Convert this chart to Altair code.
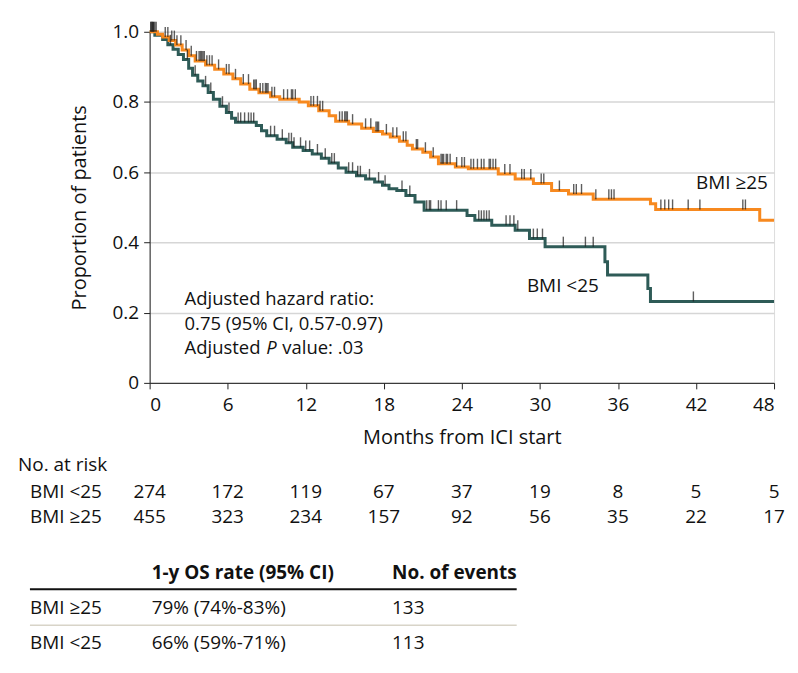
import altair as alt
import pandas as pd
import numpy as np

GROUPS = ["BMI <25", "BMI ≥25"]
COLORS = ["#2E5B57", "#F7891F"]
FONT = "Open Sans"
FS = 19

# Kaplan-Meier step curves (time in months, survival after step)
lo_t = [0, 0.4, 1.0, 1.4, 1.8, 2.2, 2.6, 3.0, 3.3, 3.7, 4.1, 4.5, 4.9, 5.4, 5.9, 6.3, 6.6, 8.2, 8.6, 9.0,
        9.8, 10.5, 11.0, 11.8, 12.5, 13.2, 13.8, 14.5, 15.1, 15.9, 16.6, 17.3, 17.9, 18.4, 19.0, 19.7,
        20.4, 21.1, 24.4, 25.0, 26.3, 28.1, 29.2, 30.4, 35.0, 35.2, 38.3, 38.5, 48.0]
lo_s = [1.0, 0.99, 0.978, 0.963, 0.95, 0.935, 0.921, 0.896, 0.876, 0.86, 0.846, 0.827, 0.808, 0.788, 0.770,
        0.754, 0.742, 0.733, 0.718, 0.704, 0.694, 0.684, 0.671, 0.662, 0.652, 0.640, 0.626, 0.612, 0.600,
        0.590, 0.581, 0.572, 0.563, 0.553, 0.548, 0.534, 0.515, 0.492, 0.477, 0.463, 0.449, 0.435, 0.411,
        0.388, 0.345, 0.307, 0.269, 0.232, 0.232]
hi_t = [0, 0.6, 1.0, 1.5, 2.0, 2.5, 3.0, 3.5, 4.3, 5.0, 5.7, 6.4, 7.0, 7.7, 8.4, 9.3, 10.0, 11.5, 12.2, 13.0,
        13.8, 14.3, 15.3, 16.3, 17.2, 17.9, 18.5, 19.2, 19.8, 20.2, 21.0, 21.6, 22.2, 23.5, 24.5, 26.8,
        28.1, 29.5, 30.9, 32.2, 34.1, 38.5, 38.9, 46.9, 48.0]
hi_s = [1.0, 0.993, 0.985, 0.975, 0.962, 0.948, 0.932, 0.917, 0.905, 0.893, 0.88, 0.866, 0.851, 0.836, 0.826,
        0.815, 0.808, 0.800, 0.789, 0.775, 0.761, 0.745, 0.737, 0.725, 0.716, 0.709, 0.70, 0.688, 0.677,
        0.666, 0.657, 0.643, 0.624, 0.615, 0.610, 0.595, 0.581, 0.568, 0.548, 0.538, 0.523, 0.510, 0.494,
        0.463, 0.463]

# censoring times
lo_c = [0.1, 0.2, 0.3, 1.6, 2.9, 3.5, 4.3, 4.7, 5.6, 6.1, 6.8, 7.0, 7.3, 7.6, 7.8, 8.0, 9.3, 9.6, 10.2, 10.7,
        10.9, 11.1, 11.6, 12.0, 12.3, 12.9, 13.5, 14.0, 14.2, 15.3, 15.6, 16.0, 16.2, 16.9, 17.6, 18.1, 19.4,
        20.0, 21.3, 21.5, 21.6, 22.2, 22.4, 22.8, 23.6, 25.3, 25.5, 25.7, 25.9, 26.1, 27.4, 27.7, 28.0, 28.3,
        29.5, 29.8, 30.2, 31.8, 33.5, 34.1, 41.8]
hi_c = [0.1, 0.2, 0.3, 0.4, 0.5, 1.2, 1.4, 1.7, 1.9, 2.1, 2.4, 2.8, 3.2, 3.6, 3.8, 3.9, 4.0, 4.1, 4.2, 4.4,
        4.6, 4.8, 5.3, 5.9, 6.1, 6.6, 7.2, 7.6, 8.0, 8.1, 8.2, 8.5, 8.7, 8.9, 9.0, 9.1, 9.4, 9.6, 10.3, 10.6,
        10.9, 11.0, 11.2, 12.4, 12.6, 12.9, 13.1, 13.3, 14.6, 14.8, 15.0, 15.1, 15.2, 15.6, 16.6, 17.0, 17.4,
        17.5, 17.6, 18.2, 18.7, 19.0, 19.5, 19.7, 20.5, 20.6, 21.2, 21.8, 22.4, 22.5, 22.6, 22.8, 22.9, 23.1,
        23.6, 24.0, 24.2, 24.7, 24.9, 25.2, 25.5, 25.7, 26.1, 26.2, 26.4, 26.6, 27.3, 27.7, 28.6, 28.8, 29.3,
        30.1, 30.3, 31.5, 32.6, 32.8, 33.2, 34.3, 35.3, 35.5, 35.7, 39.3, 39.6, 39.9, 40.2, 41.4, 42.3, 45.6,
        45.8]

# number at risk
risk_months = [0, 6, 12, 18, 24, 30, 36, 42, 48]
risk_lo = [274, 172, 119, 67, 37, 19, 8, 5, 5]
risk_hi = [455, 323, 234, 157, 92, 56, 35, 22, 17]

# summary table
tbl_header = ["1-y OS rate (95% CI)", "No. of events"]
tbl_groups = ["BMI ≥25", "BMI <25"]
tbl_os = ["79% (74%-83%)", "66% (59%-71%)"]
tbl_events = ["133", "113"]

ann_lines = ["Adjusted hazard ratio:", "0.75 (95% CI, 0.57-0.97)"]

W, H = 626, 352


def step_lookup(ts, ss, c):
    idx = np.searchsorted(np.array(ts), np.array(c), side="right") - 1
    return [ss[i] for i in idx]


def txt(s, x, y, size=FS, **kw):
    return alt.Chart(pd.DataFrame({"t": [s]})).mark_text(
        align="left", baseline="middle", fontSize=size, font=FONT, color="#111", **kw).encode(
        x=alt.value(x), y=alt.value(y), text="t:N")


curves = pd.concat([
    pd.DataFrame({"time": lo_t, "surv": lo_s, "group": GROUPS[0]}),
    pd.DataFrame({"time": hi_t, "surv": hi_s, "group": GROUPS[1]}),
])
cens = pd.concat([
    pd.DataFrame({"time": lo_c, "surv": step_lookup(lo_t, lo_s, lo_c), "group": GROUPS[0]}),
    pd.DataFrame({"time": hi_c, "surv": step_lookup(hi_t, hi_s, hi_c), "group": GROUPS[1]}),
])

xscale = alt.Scale(domain=[0, 48], nice=False, zero=True)
yscale = alt.Scale(domain=[0, 1], nice=False)
color = alt.Color("group:N", scale=alt.Scale(domain=GROUPS, range=COLORS), legend=None)

lines = alt.Chart(curves).mark_line(interpolate="step-after", strokeWidth=3).encode(
    x=alt.X("time:Q", scale=xscale,
            axis=alt.Axis(values=risk_months, title="Months from ICI start", grid=False,
                          domainColor="#222", tickColor="#222", tickSize=6, labelPadding=7,
                          titlePadding=13, labelFontSize=FS, titleFontSize=20, labelColor="#111",
                          titleColor="#111", titleFontWeight="normal", labelFont=FONT, titleFont=FONT)),
    y=alt.Y("surv:Q", scale=yscale,
            axis=alt.Axis(values=[0, 0.2, 0.4, 0.6, 0.8, 1.0], title="Proportion of patients",
                          labelExpr="datum.value == 0 ? '0' : format(datum.value, '.1f')",
                          grid=True, gridColor="#d6d6d6", gridWidth=1.5,
                          domainColor="#222", tickColor="#222", tickSize=6, labelPadding=5,
                          titlePadding=23, labelFontSize=FS, titleFontSize=20, labelColor="#111",
                          titleColor="#111", titleFontWeight="normal", labelFont=FONT, titleFont=FONT)),
    color=color,
    detail="group:N",
)

ticks = alt.Chart(cens).mark_tick(orient="vertical", size=10, thickness=1.4, yOffset=-5, color="#1a1a1a").encode(
    x=alt.X("time:Q", scale=xscale),
    y=alt.Y("surv:Q", scale=yscale),
)

labels_df = pd.DataFrame({"time": [29.0, 42.0], "surv": [0.277, 0.569], "label": GROUPS})
curve_labels = alt.Chart(labels_df).mark_text(align="left", baseline="middle", fontSize=FS, font=FONT,
                                             color="#111").encode(
    x=alt.X("time:Q", scale=xscale), y=alt.Y("surv:Q", scale=yscale), text="label:N")

ann = [
    txt(ann_lines[0], 35, 268, 18.5),
    txt(ann_lines[1], 35, 293, 18.5),
    txt("Adjusted", 35, 317, 18.5),
    txt("P", 117, 317, 18.5, fontStyle="italic"),
    txt("value: .03", 133, 317, 18.5),
]

# number at risk table
risk_df = pd.concat([
    pd.DataFrame({"month": risk_months, "n": risk_lo, "group": GROUPS[0]}),
    pd.DataFrame({"month": risk_months, "n": risk_hi, "group": GROUPS[1]}),
])
risk_rows = [txt("No. at risk", -132, 434)]
for g, yy in zip(GROUPS, [461, 486]):
    risk_rows.append(
        alt.Chart(risk_df).transform_filter(alt.datum.group == g).mark_text(
            align="center", baseline="middle", fontSize=FS, font=FONT, color="#111").encode(
            x=alt.X("month:Q", scale=xscale), y=alt.value(yy), text="n:Q"))
    risk_rows.append(txt(g, -120, yy))

# summary table
tbl = []
for s, xx in zip(tbl_header, [2, 243]):
    tbl.append(txt(s, xx, 543, FS, fontWeight="bold"))
for i, yy in enumerate([578, 613]):
    for s, xx in zip([tbl_groups[i], tbl_os[i], tbl_events[i]], [-120, 2, 243]):
        tbl.append(txt(s, xx, yy))
rule1 = alt.Chart(pd.DataFrame({"a": [0]})).mark_rule(color="#111", strokeWidth=2).encode(
    x=alt.value(-120), x2=alt.value(368), y=alt.value(559))
rule2 = alt.Chart(pd.DataFrame({"a": [0]})).mark_rule(color="#d8d4c8", strokeWidth=1.5).encode(
    x=alt.value(-120), x2=alt.value(368), y=alt.value(595))

chart = alt.layer(
    lines, ticks, curve_labels, *ann, *risk_rows, *tbl, rule1, rule2
).properties(
    width=W, height=H, padding={"left": 10, "top": 13, "right": 5, "bottom": 5}
).configure_view(stroke=None).configure(font=FONT)

chart.save("out.html", embed_options={"renderer": "svg", "actions": False})
